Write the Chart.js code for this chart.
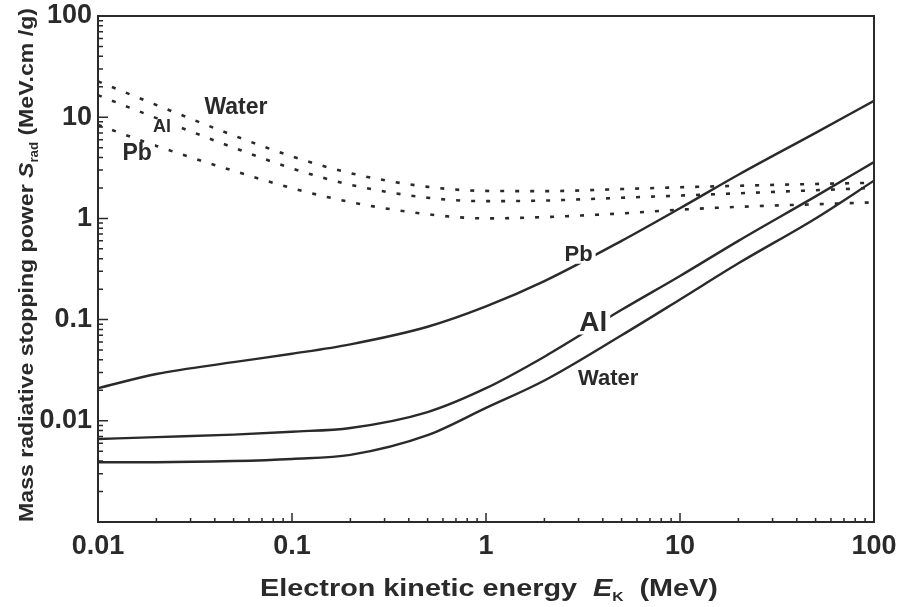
<!DOCTYPE html>
<html>
<head>
<meta charset="utf-8">
<script src="https://cdn.jsdelivr.net/npm/chart.js@4.4.1/dist/chart.umd.min.js"></script>
<style>
  html, body { margin: 0; padding: 0; background: #fff; }
  #wrap { width: 901px; height: 607px; position: relative; }
</style>
</head>
<body>
<div id="wrap"><canvas id="grafica"></canvas></div>
<script>
// Energías cinéticas (MeV)
const energias = [0.01, 0.02, 0.05, 0.1, 0.2, 0.5, 1, 2, 5, 10, 20, 50, 100];

// Poder de frenado radiativo (líneas continuas)
const radAgua = [0.0039, 0.0039, 0.0040, 0.0042, 0.0046, 0.0072, 0.0134, 0.025, 0.07, 0.158, 0.36, 1.0, 2.36];
const radAl   = [0.0066, 0.0069, 0.0073, 0.0078, 0.0085, 0.0122, 0.021, 0.043, 0.125, 0.27, 0.6, 1.65, 3.6];
const radPb   = [0.021, 0.029, 0.038, 0.046, 0.057, 0.085, 0.135, 0.24, 0.6, 1.26, 2.7, 7.0, 14.5];

// Poder de frenado por colisión (líneas punteadas)
const colAgua = [22.6, 13.2, 6.6, 4.1, 2.8, 2.05, 1.87, 1.86, 1.95, 2.03, 2.1, 2.19, 2.25];
const colAl   = [16.5, 9.8, 5.0, 3.12, 2.15, 1.6, 1.48, 1.5, 1.6, 1.68, 1.77, 1.9, 2.0];
const colPb   = [8.4, 5.2, 2.95, 1.99, 1.45, 1.1, 1.0, 1.03, 1.12, 1.22, 1.3, 1.38, 1.44];

// Marcas de los ejes
const ticksX = [0.01, 0.1, 1, 10, 100];
const etiquetasX = ['0.01', '0.1', '1', '10', '100'];
const ticksY = [0.01, 0.1, 1, 10, 100];
const etiquetasY = ['0.01', '0.1', '1', '10', '100'];

// Rótulos dentro del gráfico: texto, energía, valor, tamaño de fuente
const rotulos = [
  ['Water', 0.0514, 12.3, 23],
  ['Al', 0.0214, 7.95, 18],
  ['Pb', 0.0159, 4.4, 23],
  ['Pb', 3.0, 0.44, 22],
  ['Al', 3.57, 0.093, 28],
  ['Water', 4.26, 0.026, 22]
];

const COLOR = '#2a2a2a';
const FUENTE = '"Liberation Sans", Arial, Helvetica, sans-serif';

function puntos(valores) {
  return energias.map((e, i) => ({ x: e, y: valores[i] }));
}

function serie(valores, punteada) {
  return {
    data: puntos(valores),
    borderColor: COLOR,
    borderWidth: punteada ? 2.6 : 2.4,
    borderDash: punteada ? [4, 11] : [],
    pointRadius: 0,
    fill: false,
    cubicInterpolationMode: 'monotone'
  };
}

// Texto compuesto (con subíndice), estirado en horizontal por k
function dibujarPartes(ctx, partes, cx, cy, k) {
  ctx.save();
  ctx.translate(cx, cy);
  ctx.scale(k, 1);
  ctx.textAlign = 'left';
  ctx.textBaseline = 'alphabetic';
  ctx.fillStyle = COLOR;
  let total = 0;
  partes.forEach(p => { ctx.font = p[1]; total += ctx.measureText(p[0]).width; });
  let x = -total / 2;
  partes.forEach(p => {
    ctx.font = p[1];
    ctx.fillText(p[0], x, 8 + p[2]);
    x += ctx.measureText(p[0]).width;
  });
  ctx.restore();
}

// Plugin para marco, marcas, rótulos y títulos
const decorado = {
  id: 'decorado',
  afterDatasetsDraw(chart) {
    const ctx = chart.ctx;
    const a = chart.chartArea;
    const sx = chart.scales.x;
    const sy = chart.scales.y;
    ctx.save();

    // Rótulos con fondo blanco (cortan las líneas)
    ctx.textBaseline = 'middle';
    ctx.textAlign = 'center';
    rotulos.forEach(r => {
      ctx.font = 'bold ' + r[3] + 'px ' + FUENTE;
      const px = sx.getPixelForValue(r[1]);
      const py = sy.getPixelForValue(r[2]);
      const w = ctx.measureText(r[0]).width;
      ctx.fillStyle = '#fff';
      ctx.fillRect(px - w / 2 - 3, py - r[3] * 0.42, w + 6, r[3] * 0.84);
      ctx.fillStyle = COLOR;
      ctx.fillText(r[0], px, py);
    });

    // Marco
    ctx.strokeStyle = COLOR;
    ctx.lineWidth = 2;
    ctx.strokeRect(a.left, a.top, a.right - a.left, a.bottom - a.top);

    // Marcas menores y mayores hacia adentro
    ctx.lineWidth = 1.5;
    ctx.beginPath();
    for (let d = -3; d <= 2; d++) {
      for (let m = 1; m <= 9; m++) {
        const v = m * Math.pow(10, d);
        if (v >= sy.min && v <= sy.max) {
          const py = sy.getPixelForValue(v);
          ctx.moveTo(a.left, py);
          ctx.lineTo(a.left + (m === 1 ? 10 : 5), py);
        }
        if (v >= sx.min && v <= sx.max) {
          const px = sx.getPixelForValue(v);
          ctx.moveTo(px, a.bottom);
          ctx.lineTo(px, a.bottom - (m === 1 ? 9 : 4));
        }
      }
    }
    ctx.stroke();

    // Título del eje x
    dibujarPartes(ctx, [
      ['Electron kinetic energy  ', 'bold 24px ' + FUENTE, 0],
      ['E', 'italic bold 24px ' + FUENTE, 0],
      ['K', 'bold 13px ' + FUENTE, 5],
      ['  (MeV)', 'bold 24px ' + FUENTE, 0]
    ], 489, 588, 1.2);

    // Título del eje y (rotado)
    ctx.translate(25, 265);
    ctx.rotate(-Math.PI / 2);
    dibujarPartes(ctx, [
      ['Mass radiative stopping power ', 'bold 21px ' + FUENTE, 0],
      ['S', 'italic bold 21px ' + FUENTE, 0],
      ['rad', 'bold 12px ' + FUENTE, 5],
      [' (MeV.cm /g)', 'bold 21px ' + FUENTE, 0]
    ], 0, 0, 1.1);
    ctx.restore();
  }
};

const ctx = document.getElementById('grafica').getContext('2d');
new Chart(ctx, {
  type: 'line',
  data: {
    datasets: [
      serie(radAgua, false),
      serie(radAl, false),
      serie(radPb, false),
      serie(colAgua, true),
      serie(colAl, true),
      serie(colPb, true)
    ]
  },
  options: {
    responsive: true,
    maintainAspectRatio: false,
    animation: false,
    layout: { padding: { left: 0, right: 27, top: 16, bottom: 0 } },
    plugins: { legend: { display: false }, tooltip: { enabled: false } },
    scales: {
      x: {
        type: 'logarithmic',
        min: 0.01,
        max: 100,
        grid: { display: false, drawTicks: false },
        border: { display: false },
        afterBuildTicks: s => { s.ticks = ticksX.map(v => ({ value: v })); },
        afterFit: s => { s.height = 85; s.paddingLeft = 0; s.paddingRight = 0; },
        ticks: {
          autoSkip: false,
          maxRotation: 0,
          padding: 8,
          color: COLOR,
          font: { family: FUENTE, size: 27, weight: 'bold' },
          callback: (v, i) => etiquetasX[i]
        }
      },
      y: {
        type: 'logarithmic',
        min: 0.001,
        max: 100,
        grid: { display: false, drawTicks: false },
        border: { display: false },
        afterBuildTicks: s => { s.ticks = ticksY.map(v => ({ value: v })); },
        afterFit: s => { s.width = 98; s.paddingTop = 0; s.paddingBottom = 0; },
        ticks: {
          autoSkip: false,
          padding: 6,
          color: COLOR,
          font: { family: FUENTE, size: 27, weight: 'bold' },
          callback: (v, i) => etiquetasY[i]
        }
      }
    }
  },
  plugins: [decorado]
});
</script>
</body>
</html>
